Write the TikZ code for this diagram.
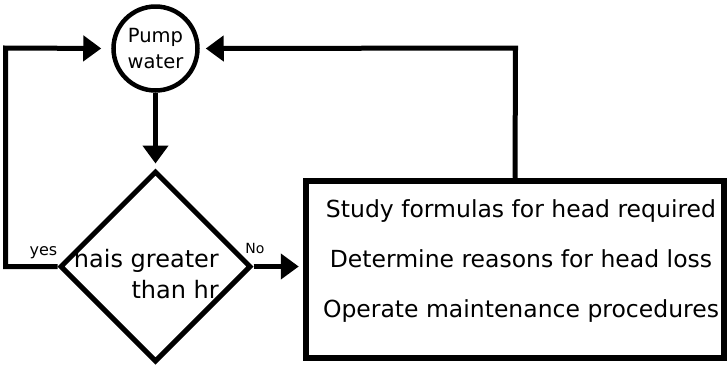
\documentclass[tikz,border=0pt]{standalone}
\usepackage{fontspec}
\setmainfont{DejaVu Sans}
\usetikzlibrary{shapes.geometric,arrows.meta}
\tikzset{
  arr/.style={line width=5pt, -{Triangle[length=18pt,width=25pt]}},
}
\begin{document}
\begin{tikzpicture}[x=1pt,y=-1pt]
\useasboundingbox (0,0) rectangle (727,368);
% nodes
\node[circle, draw, line width=4.5pt, minimum size=84pt, inner sep=0pt, align=center,
      font=\fontsize{19.5}{26}\selectfont] (pump) at (155.5,48.5) {Pump\\water};
\node[diamond, draw, line width=5pt, aspect=1, minimum width=191pt, minimum height=191pt,
      inner sep=0pt] (dec) at (155.5,266.5) {};
\node[anchor=north east, inner sep=0pt, align=right,
      font=\fontsize{24}{31}\selectfont] (dectext) at (219,249.5) {hais greater\\than hr};
\node[draw, line width=6.5pt, minimum width=418pt, minimum height=177pt, inner sep=0pt] (box) at (515,269.5) {};
\node[inner sep=0pt, align=center, font=\fontsize{23.5}{50}\selectfont] (tasks) at (521,260.8)
  {Study formulas for head required\\Determine reasons for head loss\\Operate maintenance procedures};
\node[anchor=base, inner sep=0pt, font=\fontsize{16}{18}\selectfont] (yes) at (43.5,255.5) {yes};
\node[anchor=base, inner sep=0pt, font=\fontsize{14}{16}\selectfont] (no) at (255,253) {No};
\coordinate (lc) at (5.5,48);
\coordinate (rc) at (515.5,48);
% connectors
\draw[arr, shorten >=5pt] (pump.south) -- (dec.north);
\draw[arr, shorten >=10pt] (dec.west) -| (lc) -- (pump.west);
\draw[arr, shorten >=6pt] (box.north) -- (rc) -- (pump.east);
\draw[arr, shorten >=4pt] (dec.east) -- (dec.east -| box.west);
\end{tikzpicture}
\end{document}
